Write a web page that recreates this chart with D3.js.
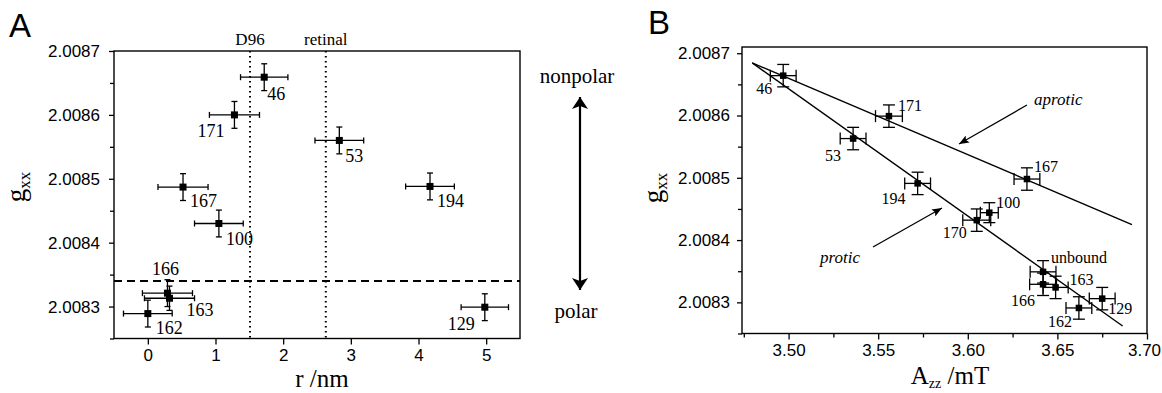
<!DOCTYPE html>
<html>
<head>
<meta charset="utf-8">
<script src="https://cdn.jsdelivr.net/npm/d3@7"></script>
<style>
  body { margin: 0; background: #fff; }
  svg { display: block; }
  text { font-family: "Liberation Serif", "Times New Roman", serif; fill: #000; }
  .tick line { stroke: #000; stroke-width: 1.3; }
  .tick text { font-family: "Liberation Sans", Arial, sans-serif; font-size: 17px; }
  .panel-letter { font-family: "Liberation Sans", Arial, sans-serif; font-size: 33px; }
</style>
</head>
<body>
<div id="chart"></div>
<script>
// ---- panel A data: g_xx vs distance r ----
var sitesA = ["46", "171", "53", "167", "194", "100", "166", "163", "162", "129"];
var rA     = [1.72, 1.28, 2.83, 0.52, 4.17, 1.05, 0.29, 0.32, 0.00, 4.98];
var rErrA  = [0.35, 0.37, 0.36, 0.37, 0.36, 0.36, 0.37, 0.37, 0.36, 0.35];
var gxxA   = [2.008659, 2.008600, 2.008560, 2.008487, 2.008488, 2.008430, 2.008321, 2.008313, 2.008289, 2.008299];
var gErrA  = [0.000021, 0.000021, 0.000021, 0.000021, 0.000021, 0.000021, 0.000021, 0.000019, 0.000021, 0.000021];
var refLinesA = [{label: "D96", r: 1.51}, {label: "retinal", r: 2.63}];
var unboundGxx = 2.00834;
var xTicksA = [0, 1, 2, 3, 4, 5];
var yTicks = [2.0083, 2.0084, 2.0085, 2.0086, 2.0087];
var yMinorTicks = [2.00825, 2.00835, 2.00845, 2.00855, 2.00865];

// ---- panel B data: g_xx vs A_zz ----
var sitesB = ["46", "171", "53", "167", "194", "100", "170", "unbound", "166", "163", "162", "129"];
var azzB    = [3.497, 3.556, 3.536, 3.633, 3.572, 3.612, 3.605, 3.642, 3.642, 3.649, 3.662, 3.675];
var azzErrB = [0.0072, 0.0075, 0.0072, 0.0072, 0.0072, 0.0050, 0.0078, 0.0072, 0.0075, 0.0070, 0.0072, 0.0072];
var gxxB    = [2.008664, 2.008599, 2.008563, 2.008498, 2.008491, 2.008444, 2.008432, 2.008349, 2.008329, 2.008324, 2.008291, 2.008306];
var gErrB   = [0.000018, 0.000018, 0.000018, 0.000018, 0.000018, 0.000016, 0.000018, 0.000018, 0.000018, 0.000018, 0.000018, 0.000018];
var aproticLine = [[3.4797, 2.0086844], [3.6916, 2.0084248]];
var proticLine  = [[3.4797, 2.0086844], [3.6864, 2.0082620]];
var xTicksB = [3.50, 3.55, 3.60, 3.65, 3.70];
var xMinorB = [3.475, 3.525, 3.575, 3.625, 3.675];

// label placement (pixel offsets from the point)
var labelPosA = {
  "46": [3, 23, "start"], "171": [-10, 22, "end"], "53": [6, 22, "start"],
  "167": [7, 20, "start"], "194": [7, 21, "start"], "100": [7, 21, "start"],
  "166": [-2, -18, "middle"], "163": [17, 18, "start"], "162": [8, 20, "start"],
  "129": [-10, 23, "end"]
};
var labelPosB = {
  "46": [-11, 18, "end"], "171": [9, -5, "start"], "53": [-12, 22, "end"],
  "167": [7, -7, "start"], "194": [-12, 21, "end"], "100": [7, -5, "start"],
  "170": [-10, 18, "end"], "unbound": [8, -9, "start"], "166": [-8, 22, "end"],
  "163": [14, -2, "start"], "162": [-7, 19, "end"], "129": [6, 15, "start"]
};

var svg = d3.select("#chart").append("svg")
    .attr("width", 1162)
    .attr("height", 393);

var defs = svg.append("defs");
defs.append("marker")
    .attr("id", "bigHead")
    .attr("viewBox", "0 0 12 16")
    .attr("refX", 12).attr("refY", 8)
    .attr("markerUnits", "userSpaceOnUse")
    .attr("markerWidth", 12).attr("markerHeight", 16)
    .attr("orient", "auto-start-reverse")
    .append("path").attr("d", "M0,0 L12,8 L0,16 L3,8 Z").attr("fill", "#000");
defs.append("marker")
    .attr("id", "smallHead")
    .attr("viewBox", "0 0 10 8")
    .attr("refX", 10).attr("refY", 4)
    .attr("markerUnits", "userSpaceOnUse")
    .attr("markerWidth", 10).attr("markerHeight", 8)
    .attr("orient", "auto")
    .append("path").attr("d", "M0,0 L10,4 L0,8 L2,4 Z").attr("fill", "#000");

function drawAxes(g, x, y, xTicks, xMinor, xFmt, box, yPad) {
    var xa = g.append("g").attr("transform", "translate(0," + box.bottom + ")")
        .call(d3.axisBottom(x).tickValues(xTicks).tickFormat(xFmt).tickSize(6).tickSizeOuter(0).tickPadding(4));
    xa.select(".domain").remove();
    if (xMinor) {
        var xm = g.append("g").attr("transform", "translate(0," + box.bottom + ")")
            .call(d3.axisBottom(x).tickValues(xMinor).tickFormat("").tickSize(4).tickSizeOuter(0));
        xm.select(".domain").remove();
    }
    var ya = g.append("g").attr("transform", "translate(" + box.left + ",0)")
        .call(d3.axisLeft(y).tickValues(yTicks).tickFormat(d3.format(".4f")).tickSize(5).tickSizeOuter(0).tickPadding(yPad));
    ya.select(".domain").remove();
    var ym = g.append("g").attr("transform", "translate(" + box.left + ",0)")
        .call(d3.axisLeft(y).tickValues(yMinorTicks).tickFormat("").tickSize(4).tickSizeOuter(0));
    ym.select(".domain").remove();
    g.append("rect")
        .attr("x", box.left).attr("y", box.top)
        .attr("width", box.right - box.left).attr("height", box.bottom - box.top)
        .attr("fill", "none").attr("stroke", "#000").attr("stroke-width", 1.4);
    return xa;
}

function drawPoints(g, xs, xe, ys, ye, x, y, cap, size) {
    var idx = d3.range(xs.length);
    var pts = g.append("g").attr("stroke", "#000").attr("stroke-width", 1.3);
    idx.forEach(function(i) {
        var cx = x(xs[i]), cy = y(ys[i]);
        var x0 = x(xs[i] - xe[i]), x1 = x(xs[i] + xe[i]);
        var y0 = y(ys[i] - ye[i]), y1 = y(ys[i] + ye[i]);
        pts.append("line").attr("x1", x0).attr("x2", x1).attr("y1", cy).attr("y2", cy);
        pts.append("line").attr("x1", x0).attr("x2", x0).attr("y1", cy - cap).attr("y2", cy + cap);
        pts.append("line").attr("x1", x1).attr("x2", x1).attr("y1", cy - cap).attr("y2", cy + cap);
        pts.append("line").attr("x1", cx).attr("x2", cx).attr("y1", y0).attr("y2", y1);
        pts.append("line").attr("x1", cx - cap).attr("x2", cx + cap).attr("y1", y0).attr("y2", y0);
        pts.append("line").attr("x1", cx - cap).attr("x2", cx + cap).attr("y1", y1).attr("y2", y1);
    });
    g.append("g").selectAll("rect").data(idx).join("rect")
        .attr("x", function(i){ return x(xs[i]) - size / 2; })
        .attr("y", function(i){ return y(ys[i]) - size / 2; })
        .attr("width", size).attr("height", size)
        .attr("fill", "#000");
}

function drawLabels(g, names, xs, ys, x, y, pos, fontSize) {
    g.append("g").selectAll("text").data(d3.range(names.length)).join("text")
        .attr("x", function(i){ return x(xs[i]) + pos[names[i]][0]; })
        .attr("y", function(i){ return y(ys[i]) + pos[names[i]][1]; })
        .attr("text-anchor", function(i){ return pos[names[i]][2]; })
        .attr("font-size", fontSize)
        .text(function(i){ return names[i]; });
}

function gxxLabel(g, cx, cy) {
    var t = g.append("text")
        .attr("transform", "translate(" + cx + "," + cy + ") rotate(-90)")
        .attr("text-anchor", "middle")
        .attr("font-size", 27);
    t.append("tspan").text("g");
    t.append("tspan").attr("dy", 5).attr("font-size", 17).text("xx");
}

// ================= PANEL A =================
var boxA = {left: 114, right: 520, top: 51, bottom: 338.5};
var xA = d3.scaleLinear().domain([-0.5, 5.5]).range([boxA.left, boxA.right]);
var yA = d3.scaleLinear().domain([2.00825, 2.0087]).range([boxA.bottom, boxA.top]);
var gA = svg.append("g");

svg.append("text").attr("class", "panel-letter").attr("x", 9).attr("y", 37).text("A");

drawAxes(gA, xA, yA, xTicksA, null, d3.format("d"), boxA, 9);

// reference lines
gA.append("g").selectAll("line").data(refLinesA).join("line")
    .attr("x1", function(d){ return xA(d.r); }).attr("x2", function(d){ return xA(d.r); })
    .attr("y1", boxA.top).attr("y2", boxA.bottom)
    .attr("stroke", "#000").attr("stroke-width", 2)
    .attr("stroke-dasharray", "1.6,3.4");
gA.append("g").selectAll("text").data(refLinesA).join("text")
    .attr("x", function(d){ return xA(d.r); })
    .attr("y", 45)
    .attr("text-anchor", "middle")
    .attr("font-size", 17)
    .text(function(d){ return d.label; });
gA.append("line")
    .attr("x1", boxA.left).attr("x2", boxA.right)
    .attr("y1", yA(unboundGxx)).attr("y2", yA(unboundGxx))
    .attr("stroke", "#000").attr("stroke-width", 1.8)
    .attr("stroke-dasharray", "8,5");

drawPoints(gA, rA, rErrA, gxxA, gErrA, xA, yA, 3, 7);
drawLabels(gA, sitesA, rA, gxxA, xA, yA, labelPosA, 18);

gxxLabel(svg, 25, 187);
svg.append("text").attr("x", 322).attr("y", 387)
    .attr("text-anchor", "middle").attr("font-size", 25).text("r /nm");

// polarity arrow
svg.append("text").attr("x", 577).attr("y", 83).attr("text-anchor", "middle").attr("font-size", 21).text("nonpolar");
svg.append("text").attr("x", 576).attr("y", 318).attr("text-anchor", "middle").attr("font-size", 21).text("polar");
svg.append("line")
    .attr("x1", 580).attr("x2", 580).attr("y1", 97).attr("y2", 290)
    .attr("stroke", "#000").attr("stroke-width", 2.2)
    .attr("marker-start", "url(#bigHead)").attr("marker-end", "url(#bigHead)");

// ================= PANEL B =================
var boxB = {left: 742, right: 1147, top: 47, bottom: 333.5};
var xB = d3.scaleLinear().domain([3.474, 3.70]).range([boxB.left, boxB.right]);
var yB = d3.scaleLinear().domain([2.00825, 2.00871]).range([boxB.bottom, boxB.top]);
var gB = svg.append("g");

svg.append("text").attr("class", "panel-letter").attr("x", 648).attr("y", 34).text("B");

var xAxisB = drawAxes(gB, xB, yB, xTicksB, xMinorB, d3.format(".2f"), boxB, 7);
// last label sits at the page edge; pull it in slightly
xAxisB.selectAll(".tick text").filter(function(d){ return d === 3.70; }).attr("dx", -3);

var line = d3.line().x(function(d){ return xB(d[0]); }).y(function(d){ return yB(d[1]); });
gB.append("path").datum(aproticLine).attr("d", line).attr("fill", "none").attr("stroke", "#000").attr("stroke-width", 1.4);
gB.append("path").datum(proticLine).attr("d", line).attr("fill", "none").attr("stroke", "#000").attr("stroke-width", 1.4);

drawPoints(gB, azzB, azzErrB, gxxB, gErrB, xB, yB, 6, 6.5);
drawLabels(gB, sitesB, azzB, gxxB, xB, yB, labelPosB, 16);

// annotations
svg.append("text").attr("x", 1034).attr("y", 105).attr("font-size", 17).attr("font-style", "italic").text("aprotic");
svg.append("line").attr("x1", 1027).attr("y1", 105).attr("x2", 959).attr("y2", 144)
    .attr("stroke", "#000").attr("stroke-width", 1.3).attr("marker-end", "url(#smallHead)");
svg.append("text").attr("x", 820).attr("y", 263).attr("font-size", 17).attr("font-style", "italic").text("protic");
svg.append("line").attr("x1", 873).attr("y1", 247).attr("x2", 942).attr("y2", 208)
    .attr("stroke", "#000").attr("stroke-width", 1.3).attr("marker-end", "url(#smallHead)");

gxxLabel(svg, 662, 188);
var xlabB = svg.append("text").attr("x", 950).attr("y", 384).attr("text-anchor", "middle").attr("font-size", 25);
xlabB.append("tspan").text("A");
xlabB.append("tspan").attr("dy", 4).attr("font-size", 14).text("zz");
xlabB.append("tspan").attr("dy", -4).text(" /mT");
</script>
</body>
</html>
